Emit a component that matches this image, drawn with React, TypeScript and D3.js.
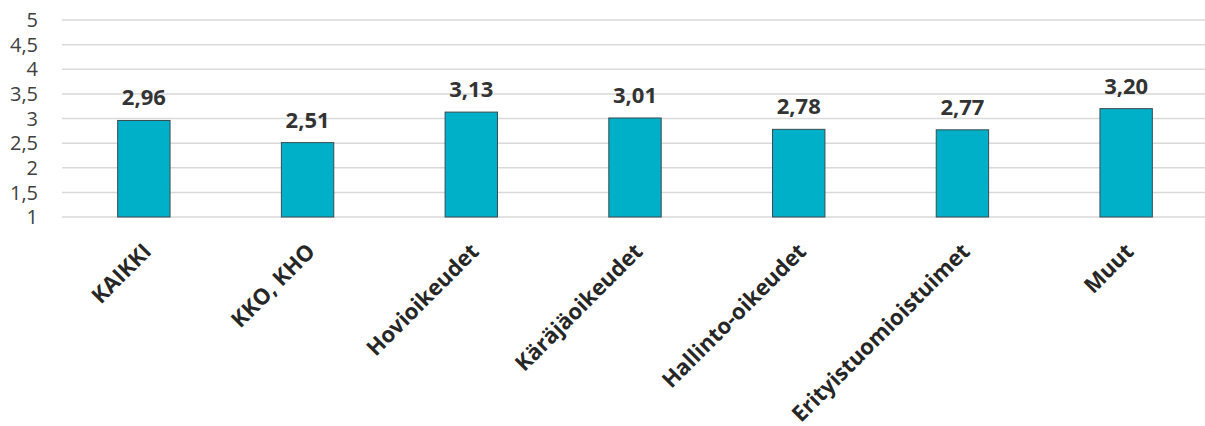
import React from "react";
import * as d3 from "d3";

const categories = ["KAIKKI", "KKO, KHO", "Hovioikeudet", "Käräjäoikeudet", "Hallinto-oikeudet", "Erityistuomioistuimet", "Muut"];
const values = [2.96, 2.51, 3.13, 3.01, 2.78, 2.77, 3.2];
const yTicks = [1, 1.5, 2, 2.5, 3, 3.5, 4, 4.5, 5];

const W = 1205, H = 426;
const left = 62, right = 1208, top = 20, bottom = 217;

export default function App() {
  const x = d3.scaleBand<string>().domain(categories).range([left, right]).paddingInner(0.68).paddingOuter(0.34);
  const y = d3.scaleLinear().domain([1, 5]).range([bottom, top]);
  const fmt = (v: number) => v.toFixed(2).replace(".", ",");
  const tfmt = (v: number) => String(v).replace(".", ",");
  const font = "'Open Sans', 'Noto Sans', sans-serif";
  return (
    <svg width={W} height={H} style={{ position: "absolute", left: 0, top: 0 }} fontFamily={font}>
      <rect width={W} height={H} fill="#fff" />
      {yTicks.map((t) => (
        <g key={t}>
          <line x1={left} x2={W} y1={y(t)} y2={y(t)} stroke="#d9d9d9" strokeWidth={1.5} />
          <text x={38} y={y(t)} dy="0.36em" textAnchor="end" fontSize={20} fill="#404040">{tfmt(t)}</text>
        </g>
      ))}
      {categories.map((c, i) => {
        const bx = x(c)!;
        const cx = bx + x.bandwidth() / 2;
        return (
          <g key={c}>
            <rect x={bx} y={y(values[i])} width={x.bandwidth()} height={bottom - y(values[i])} fill="#00AFC8" stroke="#3a4a50" strokeWidth={1} />
            <text x={cx} y={y(values[i]) - 15} textAnchor="middle" fontSize={22} fontWeight="bold" fill="#333">{fmt(values[i])}</text>
            <text transform={`translate(${cx - 2},${bottom + 25}) rotate(-45)`} textAnchor="end" dy="0.7em" fontSize={22} fontWeight="bold" fill="#262626">{c}</text>
          </g>
        );
      })}
    </svg>
  );
}
